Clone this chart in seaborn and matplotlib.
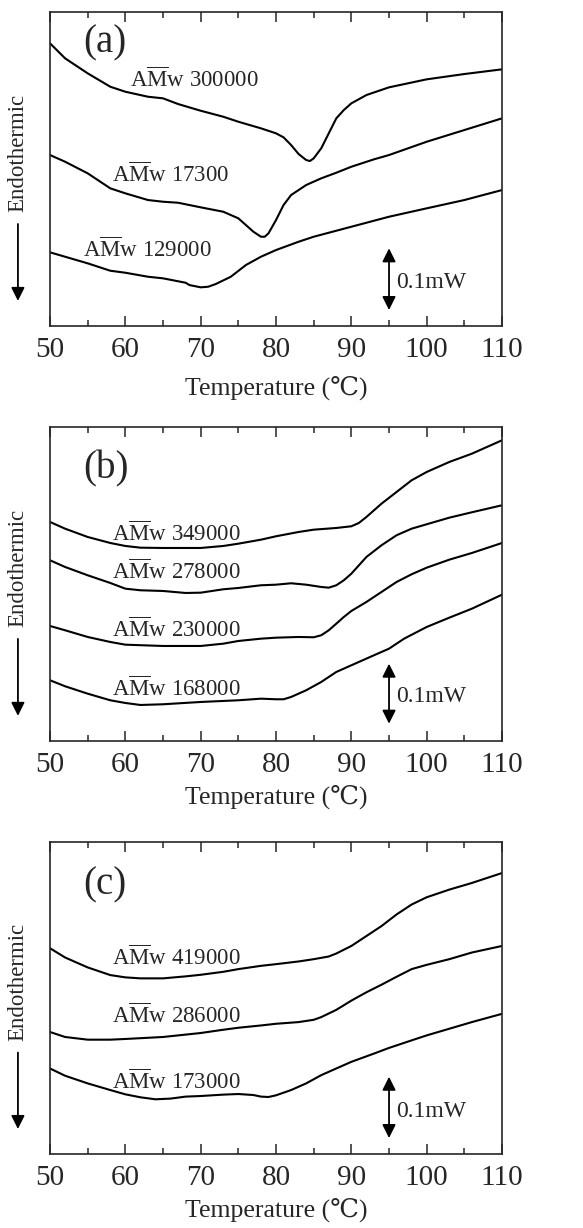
import numpy as np
import pandas as pd
import matplotlib
matplotlib.use("Agg")
import matplotlib.pyplot as plt
import seaborn as sns

# ===============================
# DATA (heat flow, arbitrary units)
# ===============================
# panel (a)
t_a1 = [50, 52, 55, 58, 60, 63, 65, 67, 70, 73, 75, 78, 80, 81, 82, 83, 84, 84.5, 85, 86, 87, 88, 89, 90, 92, 95, 100, 105, 110]
h_a1 = [282.7, 267.7, 252.7, 239.3, 234.3, 229.3, 227.7, 222, 215.3, 209.3, 204.3, 197.7, 192.7, 188.7, 181, 172, 166, 165, 167.7, 177.7, 192.7, 207.7, 216, 222.7, 231, 238.7, 246.7, 252, 256.7]
t_a2 = [50, 52, 55, 58, 60, 63, 65, 67, 70, 73, 75, 76, 77, 78, 78.5, 79, 80, 81, 82, 84, 86, 88, 90, 93, 95, 100, 105, 110]
h_a2 = [171, 164.3, 152.7, 137.7, 132.7, 126, 124.3, 123.3, 118.7, 114.3, 107.7, 101, 94.3, 89.3, 89.3, 92.7, 106, 121, 131, 141, 147.7, 153.3, 159.3, 166.7, 171, 184.3, 196, 207.7]
t_a3 = [50, 55, 58, 60, 63, 65, 68, 68.5, 70, 71, 72, 74, 76, 78, 80, 83, 85, 90, 95, 100, 105, 110]
h_a3 = [73.7, 62.7, 55.3, 53.3, 49.3, 47.7, 43.3, 41, 38.7, 39.3, 42, 49.3, 61, 69.3, 76, 84.3, 89.3, 99.3, 109.3, 117.7, 126, 136]
labels_a = ["300000", "17300", "129000"]
lab_pos_a = [(60.6, 246), (58.2, 151), (54.4, 76)]

# panel (b)
t_b1 = [50, 52, 55, 58, 60, 62, 65, 70, 73, 75, 78, 80, 83, 85, 88, 90, 91, 92, 94, 96, 98, 100, 103, 106, 110]
h_b1 = [219, 212.3, 204, 198, 195, 193.3, 193, 193, 195, 197.3, 201.3, 204.7, 209, 211.3, 213, 214.7, 218, 224, 237.3, 249, 260.7, 269, 279, 287.3, 300.7]
t_b2 = [50, 52, 55, 58, 60, 62, 65, 68, 70, 73, 75, 78, 80, 82, 84, 86, 87, 88, 89, 90, 92, 94, 96, 98, 100, 103, 106, 110]
h_b2 = [180.7, 174, 165.7, 158, 152.3, 150.7, 150, 148, 148.3, 151.7, 153, 155.7, 156.3, 157.7, 156.3, 154, 153.3, 155.7, 160.7, 167.3, 184, 195.7, 205.7, 212.3, 216.7, 223.3, 228.7, 235.7]
t_b3 = [50, 52, 55, 58, 60, 65, 70, 73, 75, 78, 80, 83, 85, 86, 87, 88, 89, 90, 92, 94, 96, 98, 100, 103, 106, 110]
h_b3 = [115, 110.7, 104, 99, 96.3, 95, 95, 97.3, 100, 102.3, 103.3, 104, 103.7, 105.7, 110.7, 117.3, 124, 130, 139, 149, 159, 166.7, 173.3, 181.3, 188, 198]
t_b4 = [50, 52, 55, 58, 60, 62, 65, 70, 75, 78, 80, 81, 82, 84, 86, 88, 90, 93, 95, 97, 100, 103, 106, 110]
h_b4 = [60.7, 54.7, 47.3, 40.7, 38, 36, 36.7, 39, 40.7, 42.3, 41.7, 41.7, 44, 50.7, 59, 69, 75.7, 85.7, 92.3, 102.3, 114, 123.3, 132.3, 146.3]
labels_b = ["349000", "278000", "230000", "168000"]
lab_pos_b = [(58.2, 207.3), (58.2, 169), (58.2, 111.3), (58.2, 52.3)]

# panel (c)
t_c1 = [50, 52, 55, 58, 60, 62, 65, 68, 70, 73, 75, 78, 80, 83, 85, 87, 88, 90, 92, 94, 96, 98, 100, 103, 106, 110]
h_c1 = [207, 197.7, 187.7, 180, 177.7, 176.7, 176.7, 178.7, 180.3, 183.3, 186, 189.3, 191, 193.7, 196, 198.7, 201.7, 209.3, 219.3, 229.3, 241, 251, 258.3, 266, 272.7, 282.7]
t_c2 = [50, 52, 55, 58, 60, 65, 70, 73, 75, 78, 80, 83, 85, 86, 88, 90, 92, 94, 96, 98, 100, 103, 106, 110]
h_c2 = [122.7, 117.7, 115, 115, 115.7, 117.7, 121.7, 125, 127, 129.3, 131, 132.7, 135, 137.7, 145, 154.3, 162.7, 170.3, 178.3, 186, 190.3, 196, 202.7, 209.3]
t_c3 = [50, 52, 55, 58, 60, 62, 64, 66, 68, 70, 73, 75, 77, 78, 79, 80, 82, 84, 86, 88, 90, 93, 95, 98, 100, 103, 106, 110]
h_c3 = [86, 78.7, 71, 64.3, 60, 57, 55, 55.7, 57.7, 58.3, 59.7, 60.3, 59.3, 57.7, 57.3, 59, 64.3, 71, 79.3, 86, 92.7, 101, 106.7, 114.3, 119.3, 126, 132.7, 141]
labels_c = ["419000", "286000", "173000"]
lab_pos_c = [(58.2, 197.7), (58.2, 139.3), (58.2, 72.7)]

panels = [
    ("(a)", [(t_a1, h_a1), (t_a2, h_a2), (t_a3, h_a3)], labels_a, lab_pos_a, 282.7, (77.7, 16, 43.3)),
    ("(b)", [(t_b1, h_b1), (t_b2, h_b2), (t_b3, h_b3), (t_b4, h_b4)], labels_b, lab_pos_b, 272.3, (77.3, 17.3, 44)),
    ("(c)", [(t_c1, h_c1), (t_c2, h_c2), (t_c3, h_c3)], labels_c, lab_pos_c, 271, (77.7, 16, 42.7)),
]

# ===============================
# STYLE
# ===============================
sns.set_style("ticks")
plt.rcParams['font.family'] = ['Liberation Serif', 'DejaVu Serif', 'Noto Sans CJK JP']
plt.rcParams['mathtext.fontset'] = 'custom'
plt.rcParams['mathtext.rm'] = 'Liberation Serif'
plt.rcParams['mathtext.it'] = 'Liberation Serif:italic'

fig = plt.figure(figsize=(5.83, 12.28), dpi=100)

# axes boxes in figure fractions
boxes = [
    (0.0858, 0.7345, 0.7753, 0.2557),
    (0.0858, 0.3966, 0.7753, 0.2557),
    (0.0858, 0.0603, 0.7753, 0.2541),
]
label_pads = [9, 5, 5]

for (letter, curves, labs, lab_pos, letter_y, bar), box, lp in zip(panels, boxes, label_pads):
    ax = fig.add_axes(box)
    for t, h in curves:
        df = pd.DataFrame({"T": t, "h": h})
        sns.lineplot(data=df, x="T", y="h", ax=ax, color="black", lw=1.5)

    ax.set_xlim(50, 110)
    ax.set_ylim(0, 314)
    ax.set_xticks(np.arange(50, 111, 10))
    ax.set_xticks(np.arange(55, 110, 10), minor=True)
    ax.set_yticks([])
    ax.tick_params(axis='x', which='both', direction='in', top=True, width=1.1)
    ax.tick_params(axis='x', which='major', length=7, labelsize=21, pad=8)
    ax.tick_params(axis='x', which='minor', length=4)
    for s in ax.spines.values():
        s.set_linewidth(1.2)
        s.set_visible(True)
    ax.set_xlabel("Temperature (℃)", fontsize=18.5, labelpad=lp)
    ax.set_ylabel("")

    # panel letter
    ax.text(54.4, letter_y, letter, fontsize=28, ha='left', va='center')

    # sample labels
    for lab, (x, y) in zip(labs, lab_pos):
        ax.text(x, y, r"A$\mathrm{\overline{M}}$w " + lab, fontsize=16.5,
                ha='left', va='center')

    # 0.1 mW scale bar
    ax.annotate("", xy=(95, bar[0]), xytext=(95, bar[1]),
                arrowprops=dict(arrowstyle="<|-|>", color="black", lw=1.3,
                                mutation_scale=20, shrinkA=0, shrinkB=0))
    ax.text(95.9, bar[2], "0.1mW", fontsize=17, ha='left', va='center')

    # endothermic label + arrow
    ax.text(-0.071, 0.55, "Endothermic", fontsize=16.5, rotation=90,
            ha='center', va='center', transform=ax.transAxes)
    ax.annotate("", xy=(-0.071, 0.08), xytext=(-0.071, 0.325),
                xycoords='axes fraction', textcoords='axes fraction',
                arrowprops=dict(arrowstyle="-|>", color="black", lw=1.3,
                                mutation_scale=20, shrinkA=0, shrinkB=0),
                annotation_clip=False)

fig.savefig("out.png", dpi=100)
